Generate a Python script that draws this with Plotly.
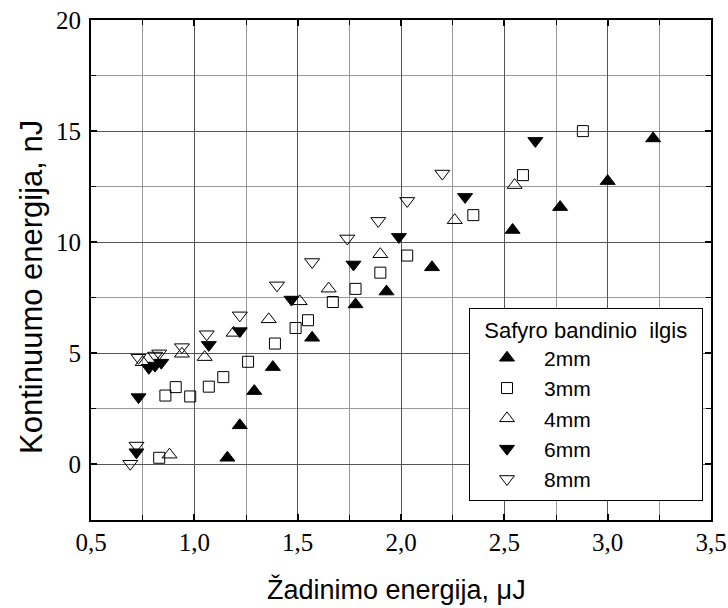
import plotly.graph_objects as go

# Pump energy (µJ) vs. continuum energy (nJ) for sapphire samples of different length
x_2mm = [1.16, 1.22, 1.29, 1.38, 1.57, 1.78, 1.93, 2.15, 2.54, 2.77, 3.00, 3.22]
y_2mm = [0.30, 1.76, 3.30, 4.38, 5.70, 7.20, 7.78, 8.87, 10.55, 11.58, 12.75, 14.67]

x_3mm = [0.83, 0.86, 0.91, 0.98, 1.07, 1.14, 1.26, 1.39, 1.49, 1.55, 1.67, 1.78, 1.90, 2.03, 2.35, 2.59, 2.88]
y_3mm = [0.30, 3.10, 3.48, 3.06, 3.50, 3.93, 4.62, 5.44, 6.14, 6.49, 7.31, 7.90, 8.63, 9.40, 11.22, 13.02, 15.00]

x_4mm = [0.88, 0.75, 0.94, 1.05, 1.19, 1.36, 1.51, 1.65, 1.90, 2.26, 2.55]
y_4mm = [0.44, 4.60, 4.98, 4.83, 5.92, 6.53, 7.34, 7.91, 9.46, 10.99, 12.57]

x_6mm = [0.72, 0.73, 0.78, 0.81, 0.84, 1.07, 1.22, 1.47, 1.77, 1.99, 2.31, 2.65]
y_6mm = [0.55, 3.03, 4.35, 4.45, 4.58, 5.38, 6.00, 7.42, 9.00, 10.24, 12.04, 14.56]

x_8mm = [0.69, 0.72, 0.73, 0.81, 0.83, 0.94, 1.06, 1.22, 1.40, 1.57, 1.74, 1.89, 2.03, 2.20]
y_8mm = [0.03, 0.85, 4.80, 4.90, 5.00, 5.28, 5.86, 6.71, 8.06, 9.11, 10.17, 10.96, 11.86, 13.09]

series_names = ["2mm", "3mm", "4mm", "6mm", "8mm"]
series_x = [x_2mm, x_3mm, x_4mm, x_6mm, x_8mm]
series_y = [y_2mm, y_3mm, y_4mm, y_6mm, y_8mm]
symbols = ["triangle-up", "square-open", "triangle-up-open", "triangle-down", "triangle-down-open"]
sizes = [13, 11, 13, 13, 13]

x_tickvals = [0.5, 1.0, 1.5, 2.0, 2.5, 3.0, 3.5]
x_ticktext = ["0,5", "1,0", "1,5", "2,0", "2,5", "3,0", "3,5"]
y_tickvals = [0, 5, 10, 15, 20]
y_ticktext = ["0", "5", "10", "15", "20"]

SANS = "Liberation Sans, Arial, sans-serif"
SERIF = "Liberation Serif, Times New Roman, serif"
NBSP = "\u00a0"

fig = go.Figure()
for name, xs, ys, sym, sz in zip(series_names, series_x, series_y, symbols, sizes):
    fig.add_trace(go.Scatter(
        x=xs, y=ys, mode="markers", name=name,
        marker=dict(symbol=sym, size=sz, color="black",
                    line=dict(width=1, color="black")),
    ))

axis_common = dict(
    showline=True, linewidth=2, linecolor="black", mirror="allticks",
    ticks="inside", ticklen=6, tickwidth=2, tickcolor="black",
    showgrid=True, gridcolor="#555555", gridwidth=1,
    zeroline=False, automargin=False,
    tickfont=dict(family=SERIF, size=25, color="black"),
)

fig.update_layout(
    width=728, height=608,
    margin=dict(l=91, r=17, t=20, b=88),
    paper_bgcolor="white", plot_bgcolor="white",
    showlegend=True,
    xaxis=dict(
        range=[0.5, 3.5], tickvals=x_tickvals, ticktext=x_ticktext,
        minor=dict(dtick=0.25, tick0=0.5, ticks="inside", ticklen=5, tickwidth=1,
                   tickcolor="black", showgrid=True, gridcolor="#999999", gridwidth=1),
        ticklabelstandoff=-1,
        **axis_common,
    ),
    yaxis=dict(
        range=[-2.5, 20], tickvals=y_tickvals, ticktext=y_ticktext,
        minor=dict(dtick=2.5, tick0=0, ticks="inside", ticklen=5, tickwidth=1,
                   tickcolor="black", showgrid=True, gridcolor="#999999", gridwidth=1),
        ticklabelstandoff=3,
        **axis_common,
    ),
    legend=dict(
        x=(469 - 91) / 620, y=(520 - 308) / 500, xanchor="left", yanchor="top",
        bgcolor="white", bordercolor="black", borderwidth=1,
        font=dict(family=SANS, size=21, color="black"),
        title=dict(text=NBSP * 2 + "Safyro bandinio" + NBSP + " ilgis" + NBSP * 2,
                   font=dict(family=SANS, size=22, color="black")),
        itemwidth=64,
    ),
    annotations=[
        dict(text="Žadinimo energija, μJ", xref="paper", yref="paper",
             x=(396 - 91) / 620, y=(520 - 589) / 500, xanchor="center", yanchor="middle",
             showarrow=False, font=dict(family=SANS, size=27, color="black")),
        dict(text="Kontinuumo energija, nJ", xref="paper", yref="paper",
             x=(31 - 91) / 620, y=(520 - 287) / 500, xanchor="center", yanchor="middle",
             textangle=-90, showarrow=False, font=dict(family=SANS, size=31, color="black")),
    ],
)

fig.write_html("out.html")
